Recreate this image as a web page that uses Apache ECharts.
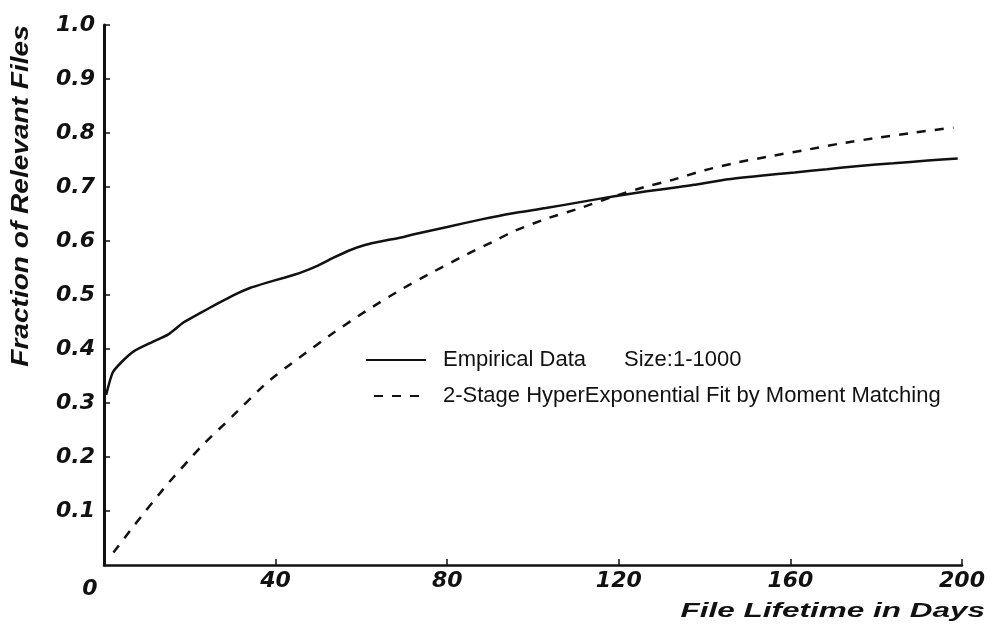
<!DOCTYPE html>
<html>
<head>
<meta charset="utf-8">
<script src="https://cdn.jsdelivr.net/npm/echarts@6/dist/echarts.min.js"></script>
<style>html,body{margin:0;padding:0;background:#fff}#c{width:1000px;height:629px}</style>
</head>
<body>
<div id="c"></div>
<script>
// File lifetime (days) and fraction of relevant files
const empDays = [0.5, 2, 4, 7, 11, 15, 18.5, 22.5, 26, 30, 34, 38, 42, 46, 50, 53.5, 57, 61, 65, 69, 72, 80, 88, 95, 103, 111, 119, 126.5, 134, 137.5, 145, 153, 161, 168.5, 176, 184, 192, 199];
const empFrac = [0.315, 0.356, 0.375, 0.396, 0.412, 0.427, 0.449, 0.467, 0.482, 0.499, 0.513, 0.523, 0.532, 0.542, 0.555, 0.569, 0.582, 0.593, 0.600, 0.606, 0.612, 0.626, 0.640, 0.651, 0.661, 0.672, 0.683, 0.692, 0.700, 0.704, 0.714, 0.721, 0.727, 0.733, 0.739, 0.744, 0.749, 0.753];
const fitDays = [2.2, 7, 14.5, 22.5, 30, 38, 45.5, 53.5, 61, 69, 77, 84.5, 92, 95.5, 103, 111, 119, 126.5, 132, 140, 148, 156, 164.5, 172, 181, 189, 198];
const fitFrac = [0.023, 0.073, 0.147, 0.218, 0.276, 0.338, 0.384, 0.430, 0.470, 0.509, 0.544, 0.575, 0.604, 0.618, 0.641, 0.661, 0.683, 0.701, 0.712, 0.731, 0.746, 0.758, 0.770, 0.781, 0.792, 0.801, 0.810];
const xTicks = [0, 40, 80, 120, 160, 200];
const yTicks = [0.1, 0.2, 0.3, 0.4, 0.5, 0.6, 0.7, 0.8, 0.9, 1.0];
const empName = 'Empirical Data';
const fitName = '2-Stage HyperExponential Fit by Moment Matching';
const sizeNote = 'Size:1-1000';
const xTitle = 'File Lifetime in Days';
const yTitle = 'Fraction of Relevant Files';

const empData = empDays.map((d, i) => [d, empFrac[i]]);
const fitData = fitDays.map((d, i) => [d, fitFrac[i]]);

const INK = '#111';
const tickFont = {fontFamily: 'DejaVu Sans', fontWeight: 'bold', fontStyle: 'italic', fontSize: 22, color: INK};
const legendFont = {fontFamily: 'Liberation Sans', fontSize: 22, color: INK, lineHeight: 22};

const chart = echarts.init(document.getElementById('c'), null, {renderer: 'canvas'});
chart.setOption({
  backgroundColor: '#fff',
  animation: false,
  grid: {left: 104, right: 38, top: 25, bottom: 64, containLabel: false},
  xAxis: {
    type: 'value', min: xTicks[0], max: xTicks[xTicks.length - 1], interval: 40,
    axisLine: {lineStyle: {color: INK, width: 2.5}},
    axisTick: {inside: true, length: 6, lineStyle: {color: INK, width: 1.5}},
    splitLine: {show: false},
    axisLabel: Object.assign({}, tickFont, {
      margin: 5,
      formatter: v => v === 0 ? '{z|0}' : String(v),
      rich: {z: Object.assign({}, tickFont, {padding: [8, 28, 0, 0]})}
    })
  },
  yAxis: {
    type: 'value', min: 0, max: yTicks[yTicks.length - 1], interval: 0.1,
    axisLine: {show: true, lineStyle: {color: INK, width: 3}},
    axisTick: {show: true, inside: true, length: 6, lineStyle: {color: INK, width: 1.5}},
    splitLine: {show: false},
    axisLabel: Object.assign({}, tickFont, {
      margin: 9, showMinLabel: false,
      formatter: v => v.toFixed(1)
    })
  },
  legend: [
    {
      data: [empName], orient: 'vertical', left: 365, top: 349, padding: 0,
      itemWidth: 60, itemHeight: 14, selectedMode: false,
      itemStyle: {opacity: 0},
      textStyle: Object.assign({}, legendFont, {padding: [0, 0, 0, 12],
        rich: {s: Object.assign({}, legendFont, {padding: [0, 0, 0, 38]})}}),
      formatter: n => n + '{s|' + sizeNote + '}'
    },
    {
      data: [fitName], orient: 'vertical', left: 373, top: 385, padding: 0,
      itemWidth: 47, itemHeight: 14, selectedMode: false,
      itemStyle: {opacity: 0},
      textStyle: Object.assign({}, legendFont, {padding: [0, 0, 0, 17]})
    }
  ],
  series: [
    {
      name: empName, type: 'line', data: empData, symbol: 'none', smooth: 0.2,
      lineStyle: {color: INK, width: 2.5}, itemStyle: {color: INK}
    },
    {
      name: fitName, type: 'line', data: fitData, symbol: 'none', smooth: 0.2,
      lineStyle: {color: INK, width: 2.5, type: [9, 9]}, itemStyle: {color: INK}
    }
  ],
  graphic: [
    {
      type: 'text', x: 985, y: 611, scaleX: 1.5,
      style: {text: xTitle, fontFamily: 'Liberation Sans', fontWeight: 'bold', fontStyle: 'italic', fontSize: 21,
        fill: INK, textAlign: 'right', textVerticalAlign: 'middle'}
    },
    {
      type: 'text', x: 22, y: 196, rotation: Math.PI / 2, scaleX: 1.22,
      style: {text: yTitle, fontFamily: 'Liberation Sans', fontWeight: 'bold', fontStyle: 'italic', fontSize: 23,
        fill: INK, textAlign: 'center', textVerticalAlign: 'middle'}
    }
  ]
});
</script>
</body>
</html>
